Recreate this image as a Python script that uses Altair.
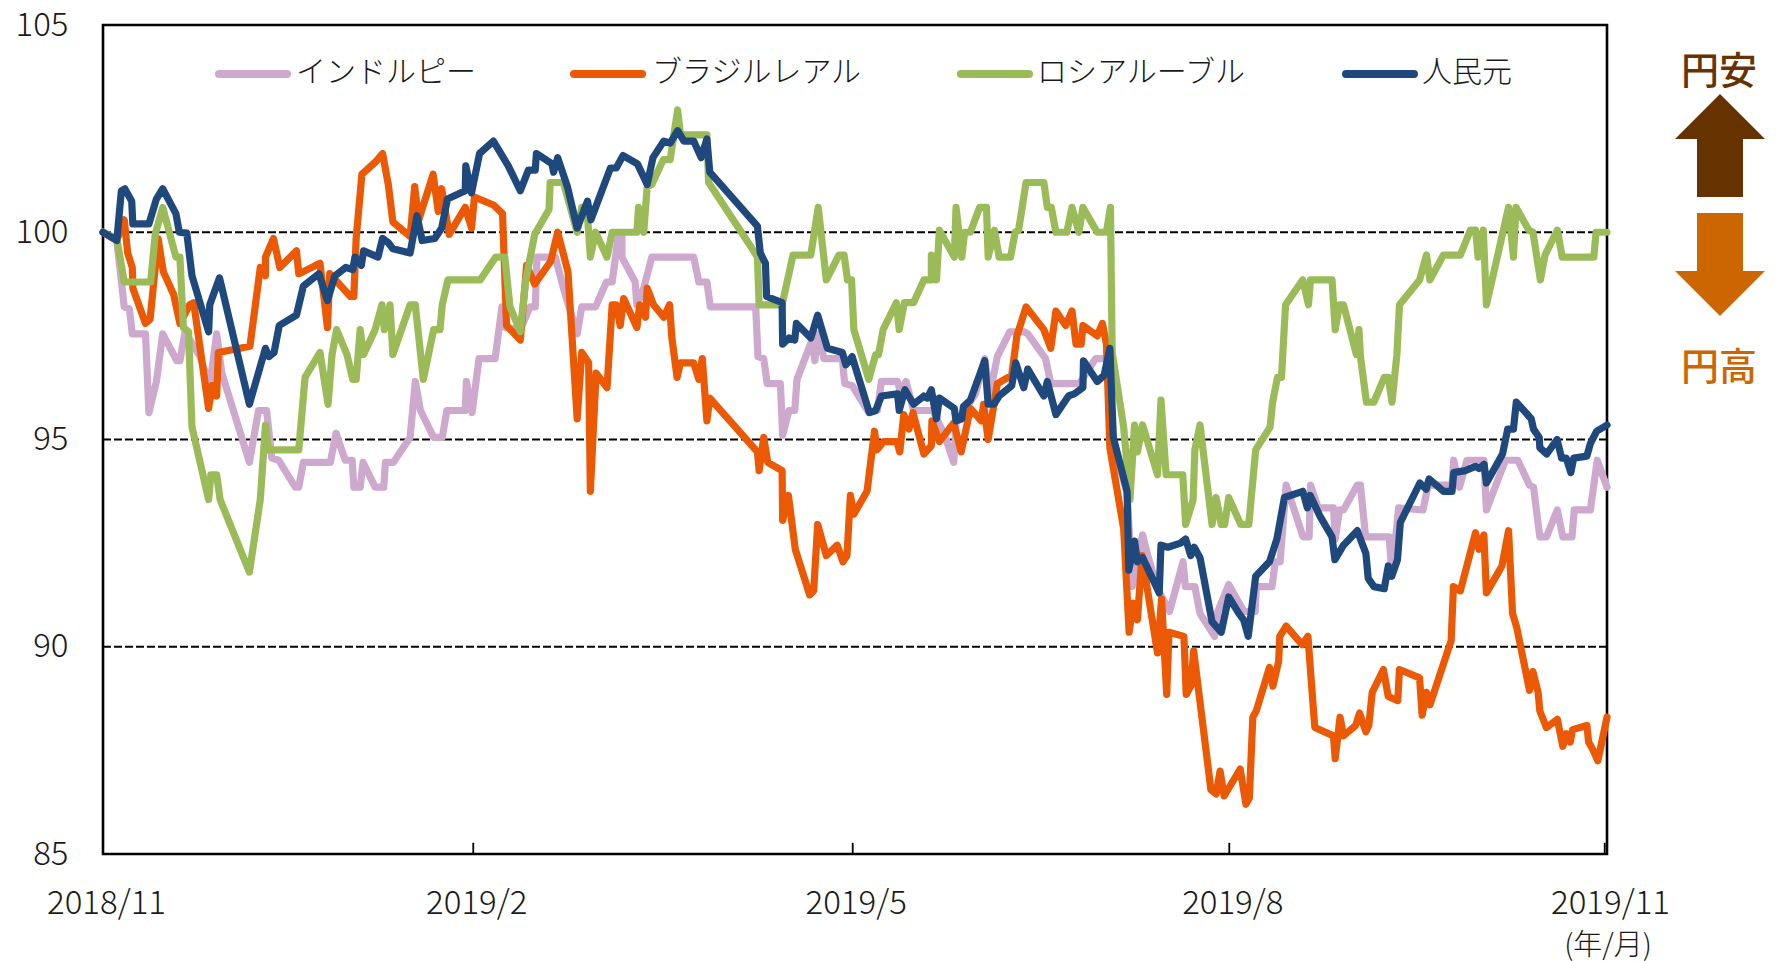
import altair as alt
import pandas as pd

names = ["インドルピー", "ブラジルレアル", "ロシアルーブル", "人民元"]
colors = ["#CEA9CE", "#EB5905", "#9BBB59", "#1F497D"]

rupee = [(0,100),(2.4,99.8),(3.7,98.2),(4.6,98.15),(5.1,97.55),(7.4,97.55),(8,95.65),(9.3,96.4),(10.4,97.55),(12.85,96.9),(13.4,96.9),(14.3,97.6),(16.9,97),(18.6,96.3),(19.8,97.55),(20.7,96.6),(25.5,94.45),(27.1,95.7),(28.5,95.7),(29.4,94.55),(30.6,94.5),(33.5,93.85),(34.1,93.85),(34.9,94.45),(39.6,94.45),(40.6,95.15),(42.2,94.5),(43.4,94.5),(43.7,93.85),(44.8,93.85),(45.3,94.45),(47.4,93.85),(48.9,93.85),(49.2,94.45),(50.6,94.45),(53.5,95.05),(54.4,96.4),(55.3,95.7),(57.6,95.05),(59.1,95.05),(59.9,95.7),(63.1,95.7),(63.3,96.4),(64.3,95.65),(65.5,96.95),(68.3,96.95),(69.5,98.2),(70.1,97.7),(72.7,97.65),(74.4,98.2),(75.3,98.2),(75.6,99.4),(78.8,99.4),(80.2,98.65),(82.6,97.55),(83.4,98.2),(85.8,98.2),(87.7,98.8),(88.7,98.8),(89.8,99.95),(90.4,99.95),(90.4,99.4),(92.7,98.8),(93,98.25),(94.2,98.65),(95.6,99.4),(102.9,99.4),(103.8,98.8),(105.2,98.8),(105.8,98.2),(113.7,98.2),(114.1,97),(115.1,96.95),(115.7,96.35),(118,96.35),(118.4,95.1),(119.5,95.7),(120.5,95.7),(120.9,96.45),(123.5,97.4),(124,96.9),(124.5,97.55),(125.6,96.95),(128.8,96.95),(129.2,96.35),(130.5,96.3),(133.4,95.65),(134.9,95.7),(135.6,96.4),(138.4,96.4),(139,96.1),(139.9,96.4),(141.2,95.7),(144.6,95.7),(146.75,95.05),(148.2,94.45),(148.6,95.4),(152,96.1),(153.6,96.95),(154.5,96.1),(155.8,97),(157.95,97.6),(160.45,97.6),(161.1,97.55),(164.2,96.95),(165.1,96.35),(170.1,96.35),(172.9,96.95),(174.8,96.95),(175.4,97.2),(175.8,95),(178.4,93.7),(179.3,91.45),(181.1,92.7),(182,92.2),(183.7,91.4),(185.8,90.85),(188.15,92.05),(188.55,91.45),(190.2,91.45),(191.1,90.8),(193.65,90.25),(194.2,90.85),(196.1,91.5),(198.75,90.85),(200.7,90.85),(200.9,91.45),(203.65,91.45),(204.2,92.05),(205.05,92.05),(206.1,93.9),(209.05,92.65),(210.1,92.65),(210.35,93.9),(211.7,93.35),(214.35,93.35),(214.65,92.6),(215.4,93.3),(216.1,93.3),(218.5,93.9),(219.05,93.9),(219.95,92.65),(224.05,92.65),(224.55,91.75),(225.7,93.35),(229.95,93.3),(230.85,93.9),(235,93.9),(235.3,94.5),(236.3,93.85),(237.6,94.5),(240.55,94.5),(241,93.3),(244.3,94.5),(246.45,94.5),(248.5,93.9),(249.2,93.85),(250.3,92.65),(251.45,92.65),(253.35,93.3),(254.3,92.65),(255.9,92.65),(256.3,93.3),(259.1,93.3),(260.3,94.5),(262,93.85)]

real = [(0,100),(2.4,99.8),(3.7,100.3),(4.3,99.5),(5.1,99.15),(5.2,98.65),(7.4,97.8),(8.2,97.9),(9.6,99.85),(10.5,99.05),(12.3,98.5),(13.4,97.8),(15.1,98.25),(15.8,98.3),(18.4,95.75),(19,96.3),(19.8,96.05),(20.1,97.1),(25.6,97.25),(27.4,99.15),(28.3,98.95),(28.3,99.4),(29.7,99.85),(30.8,99.15),(33.7,99.55),(34.1,99),(34.9,99.05),(37.8,99.25),(39.1,97.7),(39.5,99),(43.1,98.45),(43.7,98.45),(44.1,99.85),(45.1,101.4),(47.5,101.7),(48.7,101.9),(49.7,101.15),(50.5,100.25),(53.5,99.9),(54.3,101.1),(55,100.3),(57.5,101.4),(58.4,100.5),(59,101.05),(60.3,99.95),(63.1,100.6),(64.2,100.1),(64.7,100.85),(68.1,100.65),(69.6,100.45),(70.3,97.75),(72.7,97.4),(73.8,99.2),(75.2,98.75),(78,99.3),(79.2,100),(81,99.05),(82.6,95.5),(83.4,97.1),(84.6,96.85),(84.9,93.75),(85.9,96.6),(87.8,96.25),(88.7,98.25),(89.4,98.25),(90.1,97.75),(90.7,98.4),(93,97.7),(93.5,98.25),(94.5,97.95),(94.8,98.65),(95.9,98.25),(97.7,97.95),(98.7,98.25),(99.1,97.45),(100,96.5),(100.6,96.85),(102.9,96.85),(103.8,96.45),(104.4,96.95),(105.2,95.45),(105.7,96),(114,94.7),(114.3,94.25),(115.1,95.05),(115.8,94.45),(118.3,94.25),(118.4,93.05),(119.4,93.65),(120.6,92.35),(123.1,91.25),(123.8,91.35),(124.5,92.95),(126,92.2),(127.9,92.45),(128.9,92.05),(129.6,92.2),(130.2,93.65),(130.8,93.2),(133.1,93.75),(134.4,95.2),(134.8,94.75),(136,94.95),(138.3,94.95),(138.8,94.7),(139.5,95.6),(140.4,95.25),(141.1,95.65),(143,94.65),(144.3,94.85),(144.4,95.45),(145.7,94.95),(148.2,95.4),(149.5,94.7),(151.1,95.75),(153,95.45),(153.4,95.85),(154.2,95),(155.8,96.35),(158.3,96.55),(159.2,97.5),(160.8,98.2),(163.9,97.65),(165.1,97.2),(166,98.1),(167.7,97.75),(168.8,98.1),(169.5,97.3),(170.4,97.3),(170.7,97.75),(173.2,97.5),(174.1,97.8),(174.8,97.3),(175.4,94.8),(177.8,92.85),(178.75,90.35),(179.5,91.05),(180.2,90.65),(181,92.2),(183.7,89.85),(184.4,91.15),(185.3,88.85),(185.7,90.35),(188.3,90.25),(188.7,88.85),(189.5,89.05),(190,89.9),(193,86.55),(193.9,86.45),(194.6,87),(195.3,86.4),(198.1,87.05),(199.1,86.2),(199.7,86.35),(200.3,88.3),(200.9,88.45),(203.2,89.5),(203.8,89.05),(204.8,89.65),(205,90.25),(206.1,90.5),(208.9,90.05),(209.9,90.25),(211.1,88.05),(214.35,87.85),(214.65,87.3),(215.5,88.3),(216.1,87.85),(218.2,88.1),(218.9,88.4),(220,87.95),(220.5,88.1),(221.1,88.9),(223.05,89.45),(223.9,88.8),(225.55,88.7),(225.85,89.45),(229.35,89.25),(229.8,88.35),(230.55,88.9),(231.15,88.6),(234.85,90.15),(235.25,91.45),(236.45,91.35),(239.1,92.75),(239.7,92.35),(240.55,92.7),(241,91.3),(243.7,91.95),(244.85,92.8),(245.55,90.8),(246.3,90.45),(248.5,88.95),(249.1,89.4),(250,88.9),(250.3,88.45),(251.45,88.05),(253.35,88.25),(254.3,87.6),(254.9,87.9),(255.6,87.7),(256,88),(258.5,88.1),(258.8,87.7),(259.6,87.5),(260.4,87.25),(262,88.3)]

ruble = [(0,100),(2.4,99.85),(3.7,98.8),(8.3,98.8),(9.1,99.95),(10.4,100.6),(12.7,99.4),(13.4,99.4),(14,97.7),(14.9,97.6),(15.5,95.3),(18.4,93.55),(18.8,94.15),(19.8,94.15),(20.4,93.55),(25.5,91.8),(27.4,93.55),(28.3,95.35),(28.8,94.75),(34.1,94.75),(35.2,96.5),(37.8,97.1),(39.2,95.85),(39.9,97.05),(40.7,97.65),(42.5,97.05),(43.5,96.45),(44.1,96.45),(44.8,97.65),(45.4,97.05),(47.4,97.65),(48.6,98.25),(49,97.65),(50,98.25),(50.5,97.05),(53.5,98.25),(54.4,98.25),(55.8,96.45),(57.6,97.65),(58.7,97.65),(59.1,98.25),(60.1,98.85),(65.7,98.85),(68.4,99.4),(70,99.4),(70.9,98.2),(72.7,97.6),(73.6,98.8),(75.2,99.95),(77.7,100.55),(77.9,101.2),(80.2,101.2),(82.6,100),(83.4,100.6),(84.3,100.6),(84.9,99.4),(85.8,100),(87.8,99.4),(88.7,100),(93,100),(93.3,100.6),(94.2,100),(94.8,101.1),(95.6,101.15),(97.6,101.75),(98.8,101.75),(100.1,102.95),(100.6,102.35),(105.2,102.35),(105.5,101.2),(113.1,99.6),(114,99.4),(114.3,98.25),(117.4,98.25),(118.3,98.25),(120.2,99.45),(123.3,99.45),(124.6,100.6),(126,98.85),(128.2,99.45),(129.1,99.45),(129.7,98.85),(130.4,98.85),(130.8,97.65),(133.4,96.45),(134.6,97.05),(135.1,97.05),(135.9,97.65),(138.2,98.3),(138.7,97.65),(139.6,98.3),(141.2,98.3),(143,98.85),(144.3,98.85),(144.3,99.45),(145.2,98.85),(145.7,100.05),(148.3,99.4),(148.6,100.6),(149.6,99.4),(150.1,100),(151.1,100),(152.7,100.6),(153.9,100.6),(154.2,99.4),(155.3,100.05),(156.1,99.4),(158.1,99.4),(158.9,100),(159.5,100.05),(160.8,101.2),(163.9,101.2),(164.5,100.6),(165.2,100.6),(166,100),(167.9,100),(168.8,100.6),(170,100),(170.7,100.6),(173.2,100),(174.8,100),(175.5,100.6),(175.8,97.1),(177.8,95.3),(178.9,93.55),(179.7,95.35),(180.2,94.7),(181.1,95.35),(183.7,94.15),(184.3,95.95),(185.2,94.15),(188.1,94.15),(188.6,92.95),(189.9,93.55),(190.2,94.75),(191.1,95.35),(193.2,92.95),(193.9,93.6),(194.8,92.95),(195.4,92.95),(196.1,93.6),(198.2,92.95),(199.6,92.95),(200.8,94.75),(203.3,95.3),(203.75,95.9),(204.6,96.5),(205.3,96.5),(206,98.25),(209,98.85),(210,98.25),(210.35,98.85),(214.1,98.85),(214.65,97.65),(215.4,98.25),(216.1,98.25),(218.35,97.05),(218.8,97.65),(219.05,97),(220.1,95.9),(221.4,95.9),(223.2,96.5),(223.9,96.5),(224.55,95.9),(225.4,97.05),(225.85,98.25),(229.35,98.85),(230.55,99.45),(231.15,98.85),(233.5,99.45),(236.45,99.45),(238.2,100.05),(239.1,100.05),(239.55,99.4),(240.45,100.05),(241,98.25),(244.85,100.6),(245.7,99.4),(246.15,100.6),(248.4,100.05),(249.1,100),(250.4,98.85),(251.2,99.45),(253.35,100.05),(254.2,99.4),(259.7,99.4),(260.1,100),(262,100)]

yuan = [(0,100),(2.4,99.8),(3.2,101),(3.8,101.05),(5,100.75),(5.2,100.2),(8,100.2),(9.3,100.8),(10.4,101.05),(12.7,100.45),(13.3,100),(14.6,99.98),(15.5,98.95),(18.4,97.6),(18.6,98.25),(20.3,98.9),(25.5,95.85),(28.3,97.2),(28.9,97),(29.8,97.1),(30.7,97.75),(33.7,98),(34.9,98.7),(37.6,99),(39.1,98.35),(40.4,98.95),(42.3,99.15),(43.5,99.1),(43.9,99.4),(45,99.2),(45.4,99.55),(47.9,99.4),(48.7,99.85),(49.7,99.75),(50.5,99.6),(53.5,99.5),(54.7,100.4),(55.6,99.8),(57.8,99.85),(59,100.1),(60,100.8),(63.1,101),(63.2,101.6),(64.2,100.95),(65.6,101.9),(68,102.2),(70.6,101.6),(72.7,101),(74.1,101.5),(75.3,101.5),(75.5,101.9),(78.2,101.65),(78.5,101.45),(79.2,101.8),(80.9,101.1),(82.6,100.1),(84.4,100.75),(85,100.3),(88.4,101.55),(89.4,101.55),(90.6,101.85),(93.1,101.65),(94.8,101.15),(95.8,101.8),(97.7,102.2),(98.8,102.15),(100.1,102.45),(101.2,102.2),(102.9,102.2),(104.2,101.8),(105.2,102.25),(105.7,101.45),(114,100.15),(114.5,99.5),(115.4,99.25),(115.6,98.45),(118.3,98.3),(118.4,97.3),(119.5,97.45),(120.5,97.4),(120.8,97.8),(123.3,97.45),(124.5,98),(126.2,97.2),(128.8,97.1),(129.4,96.8),(130.5,97),(133.5,95.65),(134.6,95.7),(135.6,96.05),(138.4,96.1),(138.7,95.7),(139.7,96.2),(141.2,95.85),(143,96.05),(143.6,96),(144.3,96.2),(145.2,95.5),(145.7,96),(148.3,95.75),(148.6,95.45),(149.6,95.5),(149.9,95.8),(151.1,95.95),(153.6,96.9),(154.2,95.85),(155.2,95.85),(156.1,96.05),(158.3,96.3),(159,96.85),(160.4,96.25),(161.1,96.7),(163.9,96.05),(164.5,96.4),(166,95.6),(168.2,96.05),(169.2,96.1),(170.7,96.25),(170.8,96.9),(173.2,96.4),(174.4,96.55),(175.4,97.2),(176,95.05),(178.4,93.75),(178.7,91.85),(179.7,92.55),(180.2,92.05),(181.1,92.15),(184,91.3),(184.3,92.45),(185.5,92.4),(187.7,92.5),(188.6,92.6),(189.5,92.2),(190.1,92.4),(191.1,92.15),(193.2,90.6),(194.8,90.35),(196.1,91.2),(197.9,90.8),(198.7,90.65),(199.5,90.25),(200.8,91.7),(203.2,92.05),(204.5,92.6),(205.8,93.6),(209,93.75),(209.8,93.35),(210.3,93.65),(212,93.15),(214.1,92.65),(214.6,92.1),(216.1,92.45),(218.5,92.8),(220,92.25),(220.4,91.65),(221.4,91.45),(223.2,91.4),(223.9,91.95),(224.5,91.7),(225.5,92.1),(226,93),(229.4,93.95),(230.5,93.8),(231,94.05),(233.5,93.75),(235,93.75),(235.3,94.2),(237.3,94.25),(239.1,94.35),(239.7,94.3),(240.6,94.4),(241,93.95),(243.8,94.65),(244.7,95.25),(245.7,95.25),(246.2,95.9),(248.8,95.5),(249.2,95.25),(250.2,95.05),(250.3,94.8),(251.5,94.65),(253.3,95),(254.1,94.55),(254.9,94.55),(255.7,94.2),(256.2,94.55),(258.5,94.6),(259.1,94.9),(260.2,95.2),(262,95.35)]

series_values = [rupee, real, ruble, yuan]
tick_days = [0, 64.5, 130.6, 196.2, 262]
tick_labels = ["2018/11", "2019/2", "2019/5", "2019/8", "2019/11"]
inner_ticks = [64.5, 130.6, 196.2, 261.6]
guide_levels = [100, 95, 90]
y_ticks = [85, 90, 95, 100, 105]

FONT = "Noto Sans CJK JP"
W, H = 1504, 829
xscale = alt.Scale(domain=[0, 262], nice=False, zero=False)
yscale = alt.Scale(domain=[85, 105], nice=False, zero=False)

label_expr = " : ".join(f"datum.value == {d} ? '{t}'" for d, t in zip(tick_days, tick_labels)) + " : ''"
x_axis = alt.Axis(values=tick_days, labelExpr=label_expr, title=None, grid=False, ticks=False,
                  domain=False, labelFont=FONT, labelFontSize=33, labelFontWeight=300,
                  labelColor="#1a1a1a", labelPadding=33, labelOverlap=False, labelFlush=False,
                  labelBound=False, labelOffset=3)
y_axis = alt.Axis(values=y_ticks, title=None, grid=False, ticks=False, domain=False,
                  labelFont=FONT, labelFontSize=33, labelFontWeight=300, labelColor="#1a1a1a",
                  labelPadding=35, format="d", labelOverlap=False, labelBound=False, labelFlush=False)

layers = []
# dashed guides
layers.append(alt.Chart(pd.DataFrame({"v": guide_levels})).mark_rule(
    color="black", strokeWidth=2.2, strokeDash=[8, 3]).encode(
    y=alt.Y("v:Q", scale=yscale, axis=y_axis)))
# inner ticks
layers.append(alt.Chart(pd.DataFrame({"d": inner_ticks, "a": [85.0] * 4, "b": [85.27] * 4})).mark_rule(
    color="black", strokeWidth=1.8).encode(
    x=alt.X("d:Q", scale=xscale, axis=x_axis),
    y=alt.Y("a:Q", scale=yscale, axis=y_axis), y2="b:Q"))

for i, (name, col, vals) in enumerate(zip(names, colors, series_values)):
    df = pd.DataFrame(vals, columns=["d", "v"])
    df["o"] = range(len(df))
    layers.append(alt.Chart(df).mark_line(
        color=col, strokeWidth=7.2, strokeJoin="round", strokeCap="round").encode(
        x=alt.X("d:Q", scale=xscale, axis=x_axis),
        y=alt.Y("v:Q", scale=yscale, axis=y_axis),
        order="o:Q"))

# legend
sw_x = [113, 468, 855, 1240]
tx_x = [193, 549, 934, 1319]
for name, col, sx, tx in zip(names, colors, sw_x, tx_x):
    layers.append(alt.Chart(pd.DataFrame({"a": [0]})).mark_rule(
        color=col, strokeWidth=8, strokeCap="round").encode(
        x=alt.value(sx + 3), x2=alt.value(sx + 71), y=alt.value(49)))
    layers.append(alt.Chart(pd.DataFrame({"t": [name]})).mark_text(
        font=FONT, fontSize=30, fontWeight=300, color="#1a1a1a", align="left", baseline="middle").encode(
        text="t:N", x=alt.value(tx), y=alt.value(48)))

# arrows and side notes
up = "M0,-1.144 L1,-0.144 L0.511,-0.144 L0.511,1.144 L-0.511,1.144 L-0.511,-0.144 L-1,-0.144 Z"
down = "M0,1.144 L1,0.144 L0.511,0.144 L0.511,-1.144 L-0.511,-1.144 L-0.511,0.144 L-1,0.144 Z"
for path, col, cy in [(up, "#663300", 120.5), (down, "#CC6600", 239.5)]:
    layers.append(alt.Chart(pd.DataFrame({"a": [0]})).mark_point(
        shape=path, filled=True, fill=col, opacity=1, size=8100, strokeWidth=0).encode(
        x=alt.value(1617), y=alt.value(cy)))
for t, col, cy in [("円安", "#663300", 48), ("円高", "#CC6600", 344)]:
    layers.append(alt.Chart(pd.DataFrame({"t": [t]})).mark_text(
        font=FONT, fontSize=38, fontWeight=500, color=col, align="center", baseline="middle").encode(
        text="t:N", x=alt.value(1616), y=alt.value(cy)))
layers.append(alt.Chart(pd.DataFrame({"t": ["(年/月)"]})).mark_text(
    font=FONT, fontSize=29, fontWeight=300, color="#1a1a1a", align="center", baseline="middle").encode(
    text="t:N", x=alt.value(1505), y=alt.value(921)))

chart = alt.layer(*layers).properties(
    width=W, height=H,
    padding={"left": 95, "top": 17, "right": 160, "bottom": 107},
    autosize=alt.AutoSizeParams(type="none"),
    background="white",
).configure_view(stroke="black", strokeWidth=2.6)

chart.save("out.html", embed_options={"renderer": "svg", "actions": False})
